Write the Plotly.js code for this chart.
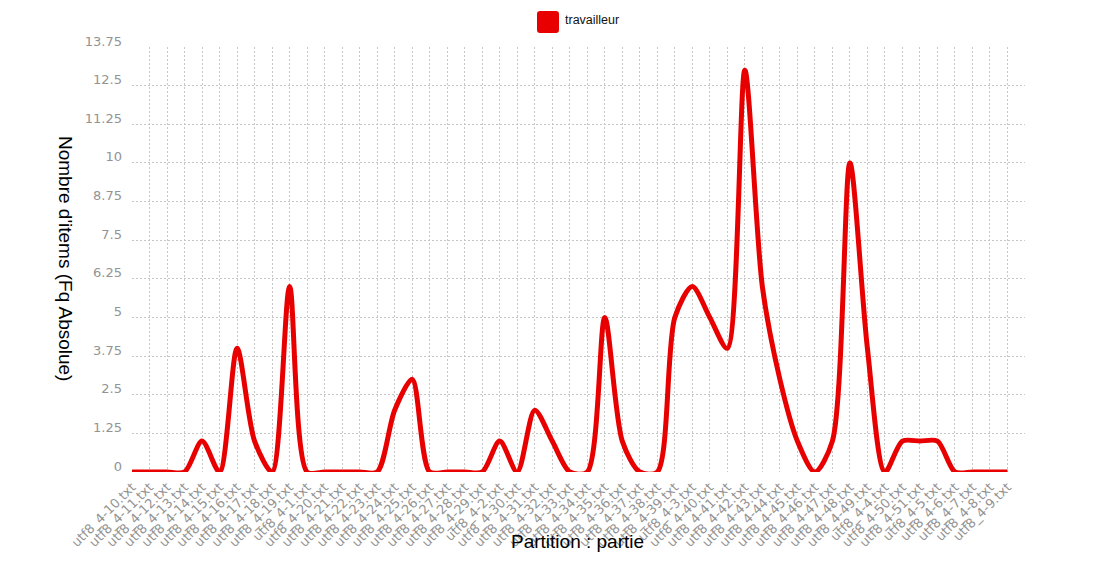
<!DOCTYPE html>
<html>
<head>
<meta charset="utf-8">
<script src="https://cdn.plot.ly/plotly-3.0.1.min.js"></script>
<style>
  html, body { margin: 0; padding: 0; background: #ffffff; }
  #chart { width: 1098px; height: 566px; }
</style>
</head>
<body>
<div id="chart"></div>
<script>
const categories = [
  "utf8_4-10.txt", "utf8_4-11.txt", "utf8_4-12.txt", "utf8_4-13.txt", "utf8_4-14.txt",
  "utf8_4-15.txt", "utf8_4-16.txt", "utf8_4-17.txt", "utf8_4-18.txt", "utf8_4-19.txt",
  "utf8_4-1.txt",
  "utf8_4-20.txt", "utf8_4-21.txt", "utf8_4-22.txt", "utf8_4-23.txt", "utf8_4-24.txt",
  "utf8_4-25.txt", "utf8_4-26.txt", "utf8_4-27.txt", "utf8_4-28.txt", "utf8_4-29.txt",
  "utf8_4-2.txt",
  "utf8_4-30.txt", "utf8_4-31.txt", "utf8_4-32.txt", "utf8_4-33.txt", "utf8_4-34.txt",
  "utf8_4-35.txt", "utf8_4-36.txt", "utf8_4-37.txt", "utf8_4-38.txt", "utf8_4-39.txt",
  "utf8_4-3.txt",
  "utf8_4-40.txt", "utf8_4-41.txt", "utf8_4-42.txt", "utf8_4-43.txt", "utf8_4-44.txt",
  "utf8_4-45.txt", "utf8_4-46.txt", "utf8_4-47.txt", "utf8_4-48.txt", "utf8_4-49.txt",
  "utf8_4-4.txt",
  "utf8_4-50.txt", "utf8_4-51.txt",
  "utf8_4-5.txt", "utf8_4-6.txt", "utf8_4-7.txt", "utf8_4-8.txt", "utf8_4-9.txt"
];

const travailleur = [
  0, 0, 0, 0, 1, 0, 4, 1, 0, 6,
  0,
  0, 0, 0, 0, 2, 3, 0, 0, 0, 0,
  1,
  0, 2, 1, 0, 0, 5, 1, 0, 0, 5,
  6,
  5, 4, 13, 6, 3, 1, 0, 1, 10, 4,
  0,
  1, 1,
  1, 0, 0, 0, 0
];

const seriesName = "travailleur";
const yTickVals = [0, 1.25, 2.5, 3.75, 5, 6.25, 7.5, 8.75, 10, 11.25, 12.5, 13.75];
const yTickText = ["0", "1.25", "2.5", "3.75", "5", "6.25", "7.5", "8.75", "10", "11.25", "12.5", "13.75"];
const yTitle = "Nombre d'items (Fq Absolue)";
const xTitle = "Partition : partie";

const RED = "rgb(232,0,0)";
const W = 1098, H = 566;
const M = { l: 132, r: 73, t: 47, b: 94 };
const PW = W - M.l - M.r, PH = H - M.t - M.b;
const px = x => (x - M.l) / PW;
const py = y => (H - M.b - y) / PH;

function roundedRectPath(x0, y0, x1, y1, r) {
  const rx = r / PW, ry = r / PH;
  const X0 = px(x0), X1 = px(x1), Y0 = py(y0), Y1 = py(y1);
  return `M ${X0 + rx} ${Y0} L ${X1 - rx} ${Y0} Q ${X1} ${Y0} ${X1} ${Y0 - ry} ` +
         `L ${X1} ${Y1 + ry} Q ${X1} ${Y1} ${X1 - rx} ${Y1} ` +
         `L ${X0 + rx} ${Y1} Q ${X0} ${Y1} ${X0} ${Y1 + ry} ` +
         `L ${X0} ${Y0 - ry} Q ${X0} ${Y0} ${X0 + rx} ${Y0} Z`;
}

const trace = {
  type: "scatter",
  mode: "lines",
  name: seriesName,
  x: categories,
  y: travailleur,
  line: { color: RED, width: 5, shape: "spline", smoothing: 0.8 },
  cliponaxis: false,
  showlegend: false,
  hoverinfo: "x+y"
};

const gridColor = "#c6c6c6";
const tickFont = { family: "DejaVu Sans, Verdana, sans-serif", size: 13, color: "#939393" };

const layout = {
  width: W, height: H,
  margin: M,
  paper_bgcolor: "#ffffff",
  plot_bgcolor: "#ffffff",
  showlegend: false,
  xaxis: {
    type: "category",
    range: [0, 51],
    showgrid: true,
    gridcolor: gridColor,
    griddash: "2px,2px",
    gridwidth: 1,
    zeroline: false,
    showline: false,
    ticks: "",
    tickangle: -45,
    ticklabelstandoff: 4,
    tickfont: tickFont,
    automargin: false
  },
  yaxis: {
    range: [0, 13.75],
    tickmode: "array",
    tickvals: yTickVals,
    ticktext: yTickText,
    showgrid: true,
    gridcolor: gridColor,
    griddash: "2px,2px",
    gridwidth: 1,
    zeroline: false,
    showline: false,
    ticks: "",
    ticklabelstandoff: 9,
    ticklabelshift: -6,
    tickfont: tickFont,
    automargin: false
  },
  shapes: [
    {
      type: "path",
      xref: "paper", yref: "paper",
      path: roundedRectPath(537, 11, 559, 33, 3),
      fillcolor: RED,
      line: { width: 0 }
    }
  ],
  annotations: [
    {
      xref: "paper", yref: "paper",
      x: px(563), y: py(20),
      xanchor: "left", yanchor: "middle",
      text: seriesName,
      showarrow: false,
      font: { family: "Liberation Sans, Arial, sans-serif", size: 12.5, color: "#111111" }
    },
    {
      xref: "paper", yref: "paper",
      x: px(66), y: py(258),
      xanchor: "center", yanchor: "middle",
      text: yTitle,
      textangle: 90,
      showarrow: false,
      font: { family: "Liberation Sans, Arial, sans-serif", size: 19, color: "#000000" }
    },
    {
      xref: "paper", yref: "paper",
      x: px(577), y: py(541),
      xanchor: "center", yanchor: "middle",
      text: xTitle,
      showarrow: false,
      font: { family: "Liberation Sans, Arial, sans-serif", size: 19, color: "#000000" }
    }
  ]
};

Plotly.newPlot("chart", [trace], layout, { displayModeBar: false, staticPlot: true });
</script>
</body>
</html>
